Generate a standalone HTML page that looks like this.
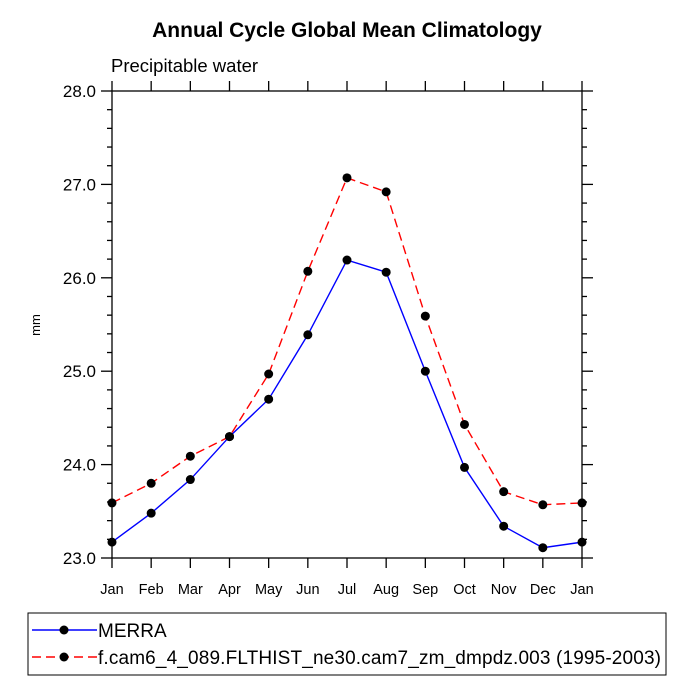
<!DOCTYPE html>
<html><head><meta charset="utf-8"><style>body{margin:0;background:#fff}svg{display:block;font-family:"Liberation Sans",Arial,sans-serif}</style></head>
<body>
<svg id="c" width="694" height="694"></svg>
<script>
const months=["Jan","Feb","Mar","Apr","May","Jun","Jul","Aug","Sep","Oct","Nov","Dec","Jan"];
const merra=[23.17,23.48,23.84,24.30,24.70,25.39,26.19,26.06,25.00,23.97,23.34,23.11,23.17];
const cam=[23.59,23.80,24.09,24.30,24.97,26.07,27.07,26.92,25.59,24.43,23.71,23.57,23.59];
const yTicks=[23.0,24.0,25.0,26.0,27.0,28.0];
const NS="http://www.w3.org/2000/svg",svg=document.getElementById('c');
const L=112,R=582,T=91,B=558,ymin=23,ymax=28;
const xs=i=>L+i*(R-L)/(months.length-1);
const ys=v=>B-(v-ymin)/(ymax-ymin)*(B-T);
function el(t,a,p){const e=document.createElementNS(NS,t);for(const k in a)e.setAttribute(k,a[k]);(p||svg).appendChild(e);return e;}
let t=el('text',{x:347,y:37,'text-anchor':'middle','font-size':21,'font-weight':'bold'});t.textContent='Annual Cycle Global Mean Climatology';


t=el('text',{x:111,y:72,'font-size':18.5});t.textContent='Precipitable water';


t=el('text',{x:40,y:325,'font-size':13,'text-anchor':'middle',transform:'rotate(-90 40 325)'});t.textContent='mm';


const ax=el('g',{stroke:'#000','stroke-width':1.3});


el('rect',{x:L,y:T,width:R-L,height:B-T,fill:'none'},ax);
for(let v=ymin;v<=ymax+1e-9;v+=0.2){const y=ys(v);const maj=Math.abs(v-Math.round(v))<1e-6;const len=maj?11:5;
el('line',{x1:L-len,x2:L,y1:y,y2:y},ax);el('line',{x1:R,x2:R+len,y1:y,y2:y},ax);}
yTicks.forEach(v=>{const tt=el('text',{x:L-16,y:ys(v)+6,'text-anchor':'end','font-size':17});tt.textContent=v.toFixed(1);

});
months.forEach((m,i)=>{const x=xs(i);el('line',{x1:x,x2:x,y1:B,y2:B+10},ax);el('line',{x1:x,x2:x,y1:T-10,y2:T},ax);
const tt=el('text',{x:x,y:B+36,'text-anchor':'middle','font-size':14.5});tt.textContent=m;

});
function series(d,color,dash,name){const g=el('g',{});


el('polyline',{points:d.map((v,i)=>xs(i)+','+ys(v)).join(' '),fill:'none',stroke:color,'stroke-width':1.4,'stroke-dasharray':dash},g);
d.forEach((v,i)=>{const c=el('circle',{cx:xs(i),cy:ys(v),r:4.5,fill:'#000'},g);

});}
series(cam,'#f00','9,5','series-cam');
series(merra,'#00f','none','series-merra');
const lg=el('g',{});


el('rect',{x:28,y:613,width:638,height:62,fill:'none',stroke:'#000','stroke-width':1},lg);
el('line',{x1:32,x2:97,y1:630,y2:630,stroke:'#00f','stroke-width':1.4},lg);el('circle',{cx:64,cy:630,r:4.5},lg);
el('line',{x1:32,x2:97,y1:657,y2:657,stroke:'#f00','stroke-width':1.4,'stroke-dasharray':'9,5'},lg);el('circle',{cx:64,cy:657,r:4.5},lg);
t=el('text',{x:98,y:637,'font-size':19},lg);t.textContent='MERRA';


t=el('text',{x:98,y:664,'font-size':19,textLength:563},lg);t.textContent='f.cam6_4_089.FLTHIST_ne30.cam7_zm_dmpdz.003 (1995-2003)';


</script>
</body></html>
